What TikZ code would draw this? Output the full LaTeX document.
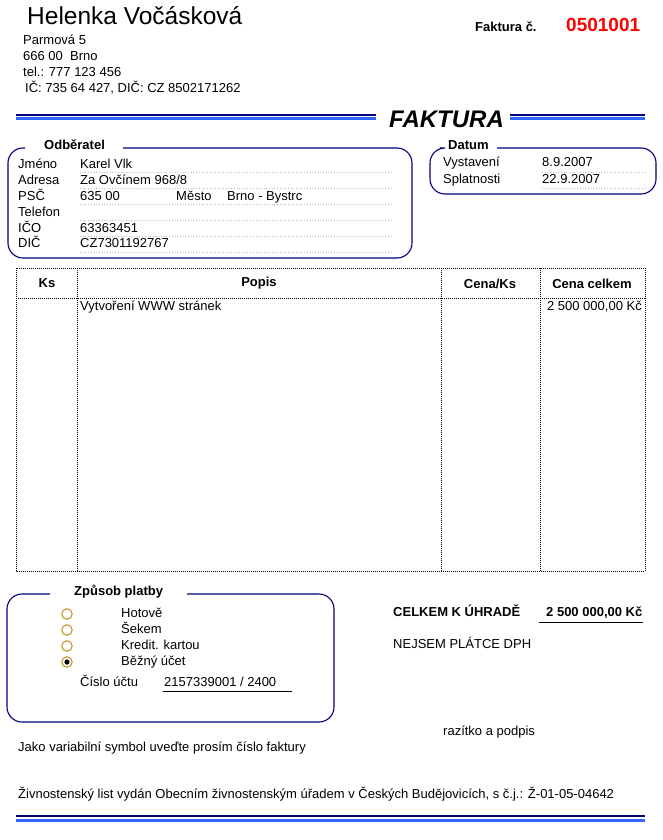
\documentclass[tikz,border=0pt]{standalone}
\usepackage{fontspec}
\setmainfont{Liberation Sans}
\definecolor{navyline}{HTML}{000080}
\definecolor{blueline}{HTML}{3366FF}
\definecolor{radiocol}{HTML}{B8860B}
\definecolor{redtxt}{HTML}{FF0000}
\begin{document}
\begin{tikzpicture}[x=1pt,y=-1pt,
  txt/.style={inner sep=0pt,anchor=west,text height=9.2pt,text depth=2.6pt,font=\fontsize{13}{15}\selectfont},
  btxt/.style={txt,font=\fontsize{13}{15}\selectfont\bfseries},
  ctxt/.style={btxt,anchor=center},
  rtxt/.style={txt,anchor=east},
  roundbox/.style={draw=navyline,line width=1.1pt,rounded corners=15pt},
  dotrow/.style={draw=gray!55,dotted,line width=0.7pt},
  tabline/.style={draw=black,line width=0.9pt,dash pattern=on 1pt off 1pt},
  thickblue/.style={draw=blueline,line width=3pt},
  thinnavy/.style={draw=navyline,line width=1.2pt},
  radio/.style={circle,draw=radiocol,fill=white,line width=0.9pt,minimum size=10.5pt,inner sep=0pt},
  uline/.style={draw=black,line width=0.9pt}]
\useasboundingbox (0,0) rectangle (663,840);
\fill[white] (0,0) rectangle (663,840);

% --- header: issuer ---
\node[txt,font=\fontsize{24.5}{28}\selectfont,text height=17.5pt,text depth=4.5pt] (name) at (27,18) {Helenka Vočásková};
\node[txt] (street) at (23,41) {Parmová 5};
\node[txt] (city) at (23,57) {666 00\ \ Brno};
\node[txt] (tel) at (23,73) {tel.: 777 123 456};
\node[txt] (ic) at (25,89) {IČ: 735 64 427, DIČ: CZ 8502171262};
\node[btxt,font=\fontsize{13}{15}\selectfont\bfseries] (fakc) at (475,28) {Faktura č.};
\node[txt,font=\fontsize{19}{22}\selectfont\bfseries,text=redtxt,text height=13.6pt,text depth=0pt] (num) at (566,25) {0501001};

% --- title with double lines ---
\node[txt,font=\fontsize{24}{28}\selectfont\bfseries\itshape,text height=17pt,text depth=0pt] (title) at (389,119) {FAKTURA};
\coordinate (tl1) at (16,119);
\coordinate (tl2) at (376,119);
\coordinate (tl3) at (510,119);
\coordinate (tl4) at (645,119);
\draw[thickblue] (tl1) -- (tl2);
\draw[thickblue] (tl3) -- (tl4);
\draw[thinnavy] ([yshift=4pt]tl1) -- ([yshift=4pt]tl2);
\draw[thinnavy] ([yshift=4pt]tl3) -- ([yshift=4pt]tl4);

% --- customer box ---
\draw[roundbox] (123,148) -- (412,148) -- (412,258) -- (8,258) -- (8,148) -- (25,148);
\node[btxt] (odb) at (44,146) {Odběratel};
\foreach \yy in {172,188,204,220,236,252} \draw[dotrow] (80,\yy) -- (392,\yy);
\node[txt] (l1) at (18,165) {Jméno};
\node[txt] (l2) at (18,181) {Adresa};
\node[txt] (l3) at (18,197) {PSČ};
\node[txt] (l4) at (18,213) {Telefon};
\node[txt] (l5) at (18,229) {IČO};
\node[txt] (l6) at (18,244) {DIČ};
\node[txt] (v1) at (80,165) {Karel Vlk};
\node[txt] (v2) at (80,181) {Za Ovčínem 968/8};
\node[txt] (v3) at (80,197) {635 00};
\node[txt] (v5) at (80,229) {63363451};
\node[txt] (v6) at (80,244) {CZ7301192767};
\node[txt] (mesto) at (176,197) {Město};
\node[txt] (mestov) at (227,197) {Brno - Bystrc};

% --- date box ---
\draw[roundbox] (497,148) -- (656,148) -- (656,194) -- (430,194) -- (430,148) -- (440,148);
\node[btxt] (dat) at (448,146) {Datum};
\draw[dotrow] (542,172) -- (645,172);
\draw[dotrow] (542,188) -- (645,188);
\node[txt] (d1) at (443,163) {Vystavení};
\node[txt] (d2) at (443,180) {Splatnosti};
\node[txt] (d1v) at (542,163) {8.9.2007};
\node[txt] (d2v) at (542,180) {22.9.2007};

% --- items table ---
\draw[tabline] (16,268) rectangle (645,571);
\draw[tabline] (16,298) -- (645,298);
\draw[tabline] (77,268) -- (77,571);
\draw[tabline] (441,268) -- (441,571);
\draw[tabline] (540,268) -- (540,571);
\node[ctxt] (hks) at (47,284) {Ks};
\node[ctxt] (hpop) at (259,283) {Popis};
\node[ctxt] (hcks) at (490,285) {Cena/Ks};
\node[ctxt] (hcc) at (592,285) {Cena celkem};
\node[txt] (item) at (80,307) {Vytvoření WWW stránek};
\node[rtxt] (itemp) at (642,307) {2 500 000,00 Kč};

% --- payment box ---
\draw[roundbox] (187,594) -- (334,594) -- (334,722) -- (7,722) -- (7,594) -- (50,594);
\node[btxt] (zp) at (74,592) {Způsob platby};
\node[radio] (r1) at (67,614) {};
\node[radio] (r2) at (67,630) {};
\node[radio] (r3) at (67,646) {};
\node[radio] (r4) at (67,662) {};
\fill[black] (r4.center) circle (2.6pt);
\node[txt] (p1) at (121,614) {Hotově};
\node[txt] (p2) at (121,630) {Šekem};
\node[txt] (p3) at (121,646) {Kredit. kartou};
\node[txt] (p4) at (121,662) {Běžný účet};
\node[txt] (cu) at (80,683) {Číslo účtu};
\node[txt] (cuv) at (164,683) {2157339001 / 2400};
\coordinate (u1) at (163,691);
\coordinate (u2) at (292,691);
\draw[uline] (u1) -- (u2);

% --- totals ---
\node[btxt] (celk) at (393,613) {CELKEM K ÚHRADĚ};
\node[btxt] (celkv) at (546,613) {2 500 000,00 Kč};
\coordinate (u3) at (539,622);
\coordinate (u4) at (643,622);
\draw[uline] (u3) -- (u4);
\node[txt] (dph) at (393,645) {NEJSEM PLÁTCE DPH};
\node[txt] (raz) at (443,732) {razítko a podpis};

% --- footer ---
\node[txt] (vs) at (18,748) {Jako variabilní symbol uveďte prosím číslo faktury};
\node[txt] (zl) at (18,795) {Živnostenský list vydán Obecním živnostenským úřadem v Českých Budějovicích, s č.j.: Ž-01-05-04642};
\coordinate (b1) at (16,820);
\coordinate (b2) at (645,820);
\draw[thickblue] (b1) -- (b2);
\draw[thinnavy] ([yshift=4pt]b1) -- ([yshift=4pt]b2);
\end{tikzpicture}
\end{document}
